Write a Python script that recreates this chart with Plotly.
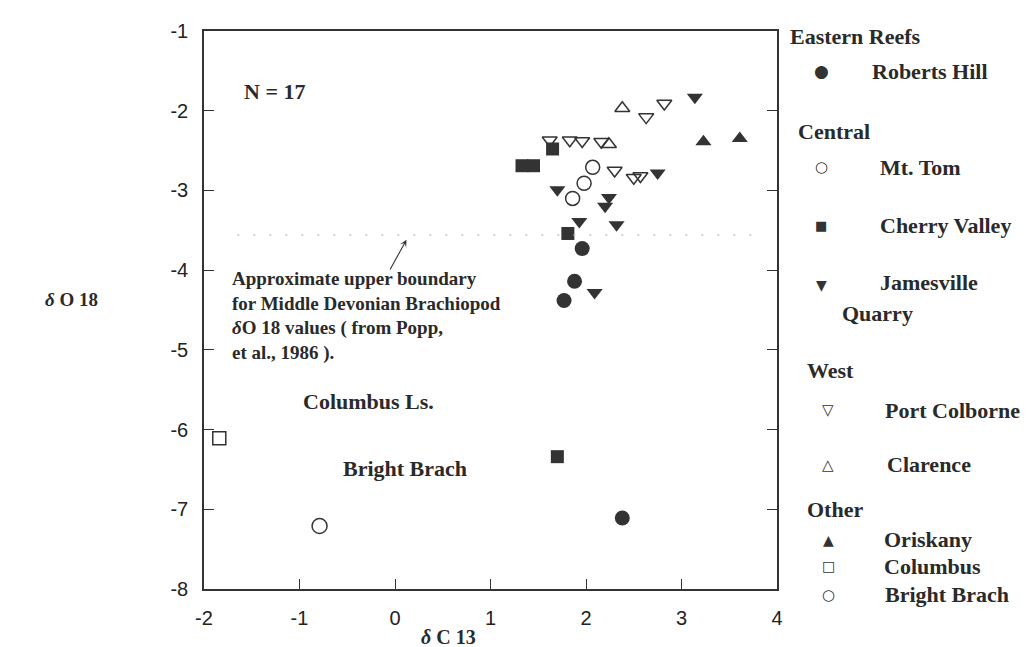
import plotly.graph_objects as go

# ---------------- data ----------------
roberts_hill_x = [1.96, 1.88, 1.77, 2.38]
roberts_hill_y = [-3.73, -4.14, -4.38, -7.11]

mt_tom_x = [2.07, 1.98, 1.86]
mt_tom_y = [-2.71, -2.91, -3.10]

cherry_valley_x = [1.33, 1.45, 1.65, 1.81, 1.70]
cherry_valley_y = [-2.69, -2.69, -2.48, -3.54, -6.34]

jamesville_x = [3.14, 2.75, 1.70, 2.24, 2.20, 1.93, 2.32, 2.09]
jamesville_y = [-1.83, -2.78, -2.99, -3.09, -3.20, -3.39, -3.43, -4.28]

port_colborne_x = [1.62, 1.83, 1.96, 2.16, 2.30, 2.50, 2.57, 2.63, 2.82]
port_colborne_y = [-2.37, -2.37, -2.38, -2.39, -2.75, -2.84, -2.82, -2.08, -1.91]

clarence_x = [2.38, 2.24]
clarence_y = [-1.97, -2.42]

oriskany_x = [3.23, 3.61]
oriskany_y = [-2.39, -2.35]

columbus_x = [-1.84]
columbus_y = [-6.11]

bright_brach_x = [-0.79]
bright_brach_y = [-7.21]

x_ticks = [-2, -1, 0, 1, 2, 3, 4]
y_ticks = [-8, -7, -6, -5, -4, -3, -2, -1]

boundary_y = -3.56
boundary_x = [-1.65, 3.75]

# ---------------- styling ----------------
INK = "#333333"
SERIF = "Liberation Serif, Times New Roman, serif"
SANS = "Liberation Sans, Arial, sans-serif"
SYM = "DejaVu Sans, sans-serif"

W, H = 1031, 647
L, T, PW, PH = 196, 16, 573, 565


def P(xp, yp):
    """pixel position -> paper coordinates"""
    return (xp - L) / PW, 1 - (yp - T) / PH


fig = go.Figure()


def add(xs, ys, symbol, size, filled, name):
    if filled:
        marker = dict(symbol=symbol, size=size, color=INK, line=dict(width=0))
    else:
        marker = dict(symbol=symbol, size=size, color=INK, line=dict(width=1.5, color=INK))
    fig.add_trace(go.Scatter(x=xs, y=ys, mode="markers", marker=marker, name=name,
                             showlegend=False, cliponaxis=False))


add(port_colborne_x, port_colborne_y, "triangle-down-open", 13, False, "Port Colborne")
add(clarence_x, clarence_y, "triangle-up-open", 13, False, "Clarence")
add(mt_tom_x, mt_tom_y, "circle-open", 14, False, "Mt. Tom")
add(cherry_valley_x, cherry_valley_y, "square", 13, True, "Cherry Valley")
add(jamesville_x, jamesville_y, "triangle-down", 14, True, "Jamesville Quarry")
add(roberts_hill_x, roberts_hill_y, "circle", 15, True, "Roberts Hill")
add(oriskany_x, oriskany_y, "triangle-up", 14, True, "Oriskany")
add(columbus_x, columbus_y, "square-open", 13, False, "Columbus")
add(bright_brach_x, bright_brach_y, "circle-open", 15, False, "Bright Brach")

# boundary line (faint dotted)
fig.add_shape(type="line", xref="x", yref="y", x0=boundary_x[0], x1=boundary_x[1],
              y0=boundary_y, y1=boundary_y,
              line=dict(color="#c4c4c4", width=1.5, dash="2px,14px"))

annotations = []


def txt(text, xp, yp, size=22, font=SERIF, xanchor="left", yanchor="middle", bold=True, color="#2a2a2a"):
    x, y = P(xp, yp)
    annotations.append(dict(text=("<b>%s</b>" % text) if bold else text, x=x, y=y,
                            xref="paper", yref="paper", showarrow=False,
                            xanchor=xanchor, yanchor=yanchor, align="left",
                            font=dict(family=font, size=size, color=color)))


# in-plot labels
txt("N = 17", 234, 77)
txt("Columbus Ls.", 293, 391)
txt("Bright Brach", 333, 459)
txt("Approximate upper boundary<br>for Middle Devonian Brachiopod<br>"
    "<i>δ</i>O 18 values ( from Popp,<br>et al., 1986 ).", 222, 305, size=19)

# arrow to boundary line
annotations.append(dict(x=0.12, y=-3.62, ax=-0.06, ay=-4.01, xref="x", yref="y",
                        axref="x", ayref="y", text="", showarrow=True,
                        arrowhead=3, arrowsize=1.1, arrowwidth=1.1, arrowcolor=INK))

# axis titles
txt("<i>δ</i> O 18", 35, 288, size=19)
txt("<i>δ</i> C 13", 440, 630, size=20, xanchor="center")

# custom legend
txt("Eastern Reefs", 780, 22)
txt("Roberts Hill", 862, 57)
txt("Central", 788, 118)
txt("Mt. Tom", 870, 154)
txt("Cherry Valley", 870, 213)
txt("Jamesville", 870, 271)
txt("Quarry", 832, 302)
txt("West", 797, 360)
txt("Port Colborne", 875, 400)
txt("Clarence", 877, 455)
txt("Other", 797, 500)
txt("Oriskany", 874, 531)
txt("Columbus", 874, 558)
txt("Bright Brach", 875, 587)

for glyph, xp, yp, sz in [("●", 813, 57, 17), ("○", 813, 154, 15), ("■", 813, 213, 13),
                          ("▼", 813, 273, 14), ("▽", 820, 400, 15), ("△", 820, 455, 15),
                          ("▲", 820, 531, 14), ("□", 820, 558, 14), ("○", 820, 587, 15)]:
    txt(glyph, xp, yp, size=sz, font=SYM, xanchor="center", bold=False, color=INK)

fig.update_layout(
    width=W, height=H,
    margin=dict(l=L, r=W - L - PW, t=T, b=H - T - PH),
    paper_bgcolor="white", plot_bgcolor="white",
    showlegend=False,
    annotations=annotations,
    xaxis=dict(range=[-2, 4], tickvals=x_ticks, ticktext=[str(v) for v in x_ticks],
               showgrid=False, zeroline=False, showline=True, linecolor=INK, linewidth=1.5,
               mirror=True, ticks="inside", ticklen=10, tickwidth=1.2, tickcolor=INK,
               ticklabelstandoff=10,
               tickfont=dict(family=SANS, size=20, color="#222")),
    yaxis=dict(range=[-8, -1], tickvals=y_ticks, ticktext=[str(v) for v in y_ticks],
               showgrid=False, zeroline=False, showline=True, linecolor=INK, linewidth=1.5,
               mirror="ticks", ticks="inside", ticklen=10, tickwidth=1.2, tickcolor=INK,
               ticklabelstandoff=10,
               tickfont=dict(family=SANS, size=20, color="#222")),
)

fig.write_html("out.html")
